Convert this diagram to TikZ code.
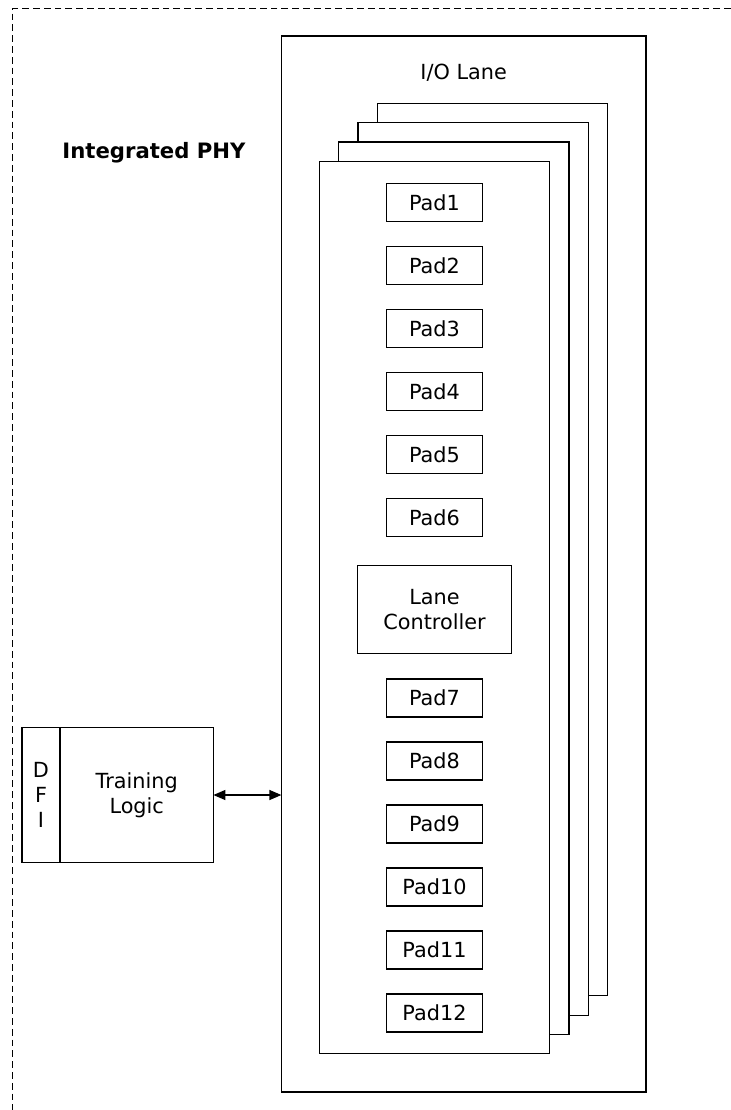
\documentclass[tikz,border=0pt]{standalone}
\usepackage{fontspec}
\setmainfont{DejaVu Sans}
\usetikzlibrary{positioning, arrows.meta}
\tikzset{every node/.style={font=\fontsize{10.4}{12.4}\selectfont}}
\tikzset{dbox/.style={draw, line width=0.6pt, outer sep=0pt, inner sep=0pt, fill=white, align=center}}
\tikzset{dpad/.style={dbox, minimum width=48pt, minimum height=19pt}}
\tikzset{dlane/.style={dbox, minimum width=115.2pt, minimum height=446.2pt}}
\tikzset{arr2/.style={draw, {Triangle[length=6pt,width=5pt]}-{Triangle[length=6pt,width=5pt]}, line width=0.6pt}}
\begin{document}
\begin{tikzpicture}[x=0.5pt, y=-0.5pt, node distance=12.5pt]
	\useasboundingbox (0,0) rectangle (731,1110);
	\draw[line width=0.65pt, dash pattern=on 3.4pt off 2pt]
		(731,8.3) -- (12.7,8.3) -- (12.7,1110);
	\node[font=\fontsize{10.6}{12.6}\selectfont\bfseries] (phy) at (154,153) {Integrated PHY};
	\node[dbox, minimum width=182.3pt, minimum height=528pt] (io) at (463.7,564) {};
	\node (iolabel) at (463.7,73) {I/O Lane};
	\node[dlane] (lane4) at (492.4,549.6) {};
	\node[dlane] (lane3) at (473.1,568.9) {};
	\node[dlane] (lane2) at (453.8,588.2) {};
	\node[dlane] (lane1) at (434.5,607.5) {};
	\node[dpad] (pad1) at (434.5,202.7) {Pad1};
	\node[dpad, below=of pad1] (pad2) {Pad2};
	\node[dpad, below=of pad2] (pad3) {Pad3};
	\node[dpad, below=of pad3] (pad4) {Pad4};
	\node[dpad, below=of pad4] (pad5) {Pad5};
	\node[dpad, below=of pad5] (pad6) {Pad6};
	\node[dbox, minimum width=77.2pt, minimum height=44pt,
		below=14.3pt of pad6] (ctrl) {Lane\\Controller};
	\node[dpad, below=12.8pt of ctrl] (pad7) {Pad7};
	\node[dpad, below=of pad7] (pad8) {Pad8};
	\node[dpad, below=of pad8] (pad9) {Pad9};
	\node[dpad, below=of pad9] (pad10) {Pad10};
	\node[dpad, below=of pad10] (pad11) {Pad11};
	\node[dpad, below=of pad11] (pad12) {Pad12};
	\node[dbox, minimum width=19pt, minimum height=67.2pt] (dfi) at (41,795) {D\\F\\I};
	\node[dbox, minimum width=76.7pt, minimum height=67.2pt,
		right=0pt of dfi] (train) {Training\\Logic};
	\draw[arr2] (train.east) --
		(train.east -| io.west);
\end{tikzpicture}
\end{document}
